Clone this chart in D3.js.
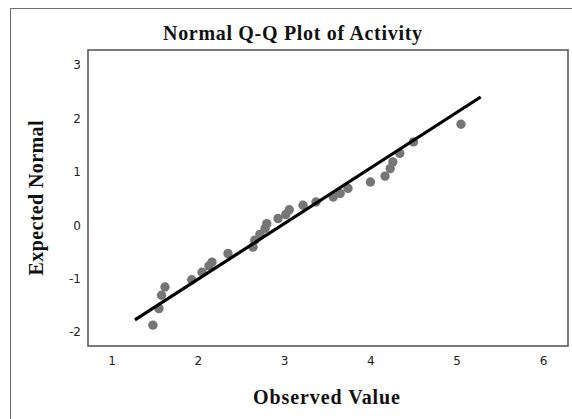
<!DOCTYPE html>
<html>
<head>
<meta charset="utf-8">
<script src="https://cdn.jsdelivr.net/npm/d3@7"></script>
<style>
  html, body { margin: 0; padding: 0; background: #fff; }
  svg { display: block; }
</style>
</head>
<body>
<svg id="chart" width="572" height="419"></svg>
<script>
// Data
const observed = [1.48, 1.55, 1.58, 1.62, 1.93, 2.05, 2.13, 2.165, 2.35, 2.64, 2.66, 2.72, 2.78, 2.80, 2.93, 3.02, 3.06, 3.22, 3.37, 3.57, 3.65, 3.74, 4.00, 4.17, 4.23, 4.26, 4.34, 4.50, 5.05];
const expected = [-1.87, -1.56, -1.31, -1.155, -1.02, -0.88, -0.76, -0.69, -0.53, -0.41, -0.28, -0.17, -0.06, 0.03, 0.125, 0.20, 0.29, 0.375, 0.435, 0.53, 0.595, 0.69, 0.81, 0.92, 1.06, 1.185, 1.345, 1.56, 1.89];
const lineX = [1.272, 5.278];
const lineY = [-1.77, 2.40];
const xTicks = [1, 2, 3, 4, 5, 6];
const yTicks = [-2, -1, 0, 1, 2, 3];
const xDomain = [0.728, 6.29];
const yDomain = [-2.26, 3.28];

const svg = d3.select("#chart");
const plot = { left: 88, top: 50, right: 568, bottom: 346 };

const x = d3.scaleLinear().domain(xDomain).range([plot.left, plot.right]);
const y = d3.scaleLinear().domain(yDomain).range([plot.bottom, plot.top]);

// outer frame
svg.append("rect")
  .attr("x", 10.5).attr("y", 8.5)
  .attr("width", 600).attr("height", 500)
  .attr("fill", "#fff").attr("stroke", "#6e6e6e").attr("stroke-width", 1);

// plot frame
svg.append("rect")
  .attr("x", plot.left).attr("y", plot.top)
  .attr("width", plot.right - plot.left).attr("height", plot.bottom - plot.top)
  .attr("fill", "#fff").attr("stroke", "#5a5a5a").attr("stroke-width", 1.6);

// points
svg.append("g").selectAll("circle")
  .data(observed.map((d, i) => [d, expected[i]]))
  .join("circle")
  .attr("cx", d => x(d[0]))
  .attr("cy", d => y(d[1]))
  .attr("r", 4.7)
  .attr("fill", "#767676");

// reference line
svg.append("line")
  .attr("x1", x(lineX[0])).attr("y1", y(lineY[0]))
  .attr("x2", x(lineX[1])).attr("y2", y(lineY[1]))
  .attr("stroke", "#000").attr("stroke-width", 3.2);

// axes (labels only)
const xAxis = d3.axisBottom(x).tickValues(xTicks).tickSize(0).tickPadding(10).tickFormat(d => String(d));
const gx = svg.append("g").attr("transform", `translate(0,${plot.bottom})`).call(xAxis);
gx.select(".domain").remove();
gx.selectAll("text").attr("font-family", "DejaVu Sans, sans-serif").attr("font-size", 12).attr("fill", "#222");

const yAxis = d3.axisLeft(y).tickValues(yTicks).tickSize(0).tickPadding(7).tickFormat(d => String(d));
const gy = svg.append("g").attr("transform", `translate(${plot.left},0)`).call(yAxis);
gy.select(".domain").remove();
gy.selectAll("text").attr("font-family", "DejaVu Sans, sans-serif").attr("font-size", 12).attr("fill", "#222");

// title
svg.append("text")
  .attr("x", 292.5).attr("y", 40)
  .attr("text-anchor", "middle")
  .attr("font-family", "Liberation Serif, serif")
  .attr("font-weight", "bold").attr("font-size", 20)
  .attr("textLength", 259).attr("lengthAdjust", "spacing")
  .attr("fill", "#111")
  .text("Normal Q-Q Plot of Activity");

// x axis title
svg.append("text")
  .attr("x", 326.5).attr("y", 404)
  .attr("text-anchor", "middle")
  .attr("font-family", "Liberation Serif, serif")
  .attr("font-weight", "bold").attr("font-size", 20)
  .attr("textLength", 147).attr("lengthAdjust", "spacing")
  .attr("fill", "#111")
  .text("Observed Value");

// y axis title
svg.append("text")
  .attr("transform", "translate(43,198) rotate(-90)")
  .attr("text-anchor", "middle")
  .attr("font-family", "Liberation Serif, serif")
  .attr("font-weight", "bold").attr("font-size", 20)
  .attr("textLength", 155).attr("lengthAdjust", "spacing")
  .attr("fill", "#111")
  .text("Expected Normal");
</script>
</body>
</html>
